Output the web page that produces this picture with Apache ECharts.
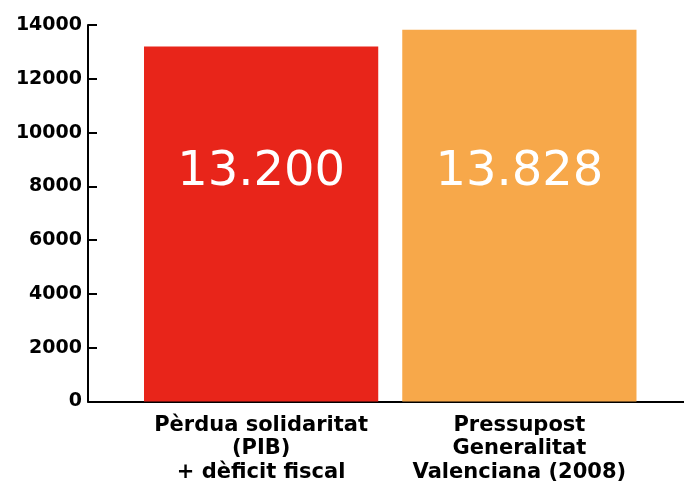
<!DOCTYPE html>
<html>
<head>
<meta charset="utf-8">
<script src="https://cdn.jsdelivr.net/npm/echarts@6/dist/echarts.min.js"></script>
<style>html,body{margin:0;padding:0;background:#fff}#c{width:684px;height:485px}</style>
</head>
<body>
<div id="c"></div>
<script>
var categories = ['Pèrdua solidaritat\n(PIB)\n+ dèficit fiscal', 'Pressupost\nGeneralitat\nValenciana (2008)'];
var values = [13200, 13828];
var barColors = ['#E8251A', '#F7A84A'];
var yTicks = { min: 0, max: 14000, interval: 2000 };

function fmt(v) {
  var s = String(Math.round(v));
  return s.replace(/\B(?=(\d{3})+(?!\d))/g, '.');
}

var chart = echarts.init(document.getElementById('c'), null, { renderer: 'canvas' });
var labelLevel = 8500;
var option = {
  animation: false,
  backgroundColor: '#fff',
  grid: [
    { left: 132, right: 35.5, top: 25, bottom: 83.5 },
    { left: 88, right: 0, top: 25, bottom: 83.5 }
  ],
  xAxis: [
    {
      type: 'category', gridIndex: 0, data: categories,
      axisLine: { show: true, lineStyle: { color: '#000', width: 2 } }, axisTick: { show: false },
      axisLabel: {
        color: '#000', fontFamily: 'DejaVu Sans', fontWeight: 'bold', fontSize: 21,
        lineHeight: 23.5, margin: 12, interval: 0
      }
    },
    {
      type: 'category', gridIndex: 1, data: [''],
      axisLine: { show: true, lineStyle: { color: '#000', width: 2 } },
      axisTick: { show: false }, axisLabel: { show: false }
    }
  ],
  yAxis: [
    {
      type: 'value', gridIndex: 0, min: yTicks.min, max: yTicks.max, interval: yTicks.interval,
      show: false, splitLine: { show: false }
    },
    {
      type: 'value', gridIndex: 1, min: yTicks.min, max: yTicks.max, interval: yTicks.interval,
      splitLine: { show: false },
      axisLine: { show: true, lineStyle: { color: '#000', width: 2 } },
      axisTick: { show: true, inside: true, length: 9, lineStyle: { color: '#000', width: 2 } },
      axisLabel: {
        color: '#000', fontFamily: 'DejaVu Sans', fontWeight: 'bold', fontSize: 19, margin: 6,
        formatter: function (v) { return String(v); }
      }
    }
  ],
  series: [
    {
      type: 'bar', xAxisIndex: 0, yAxisIndex: 0, z: 2,
      barCategoryGap: '9.3%',
      data: values.map(function (v, i) { return { value: v, itemStyle: { color: barColors[i] } }; })
    },
    {
      type: 'scatter', xAxisIndex: 0, yAxisIndex: 0, symbolSize: 0, silent: true, z: 10,
      data: values.map(function (v, i) { return [i, labelLevel]; }),
      label: {
        show: true, position: 'inside', opacity: 1,
        color: '#ffffff', fontFamily: 'DejaVu Sans', fontSize: 48,
        formatter: function (p) { return fmt(values[p.dataIndex]); }
      }
    }
  ]
};
chart.setOption(option);
</script>
</body>
</html>
